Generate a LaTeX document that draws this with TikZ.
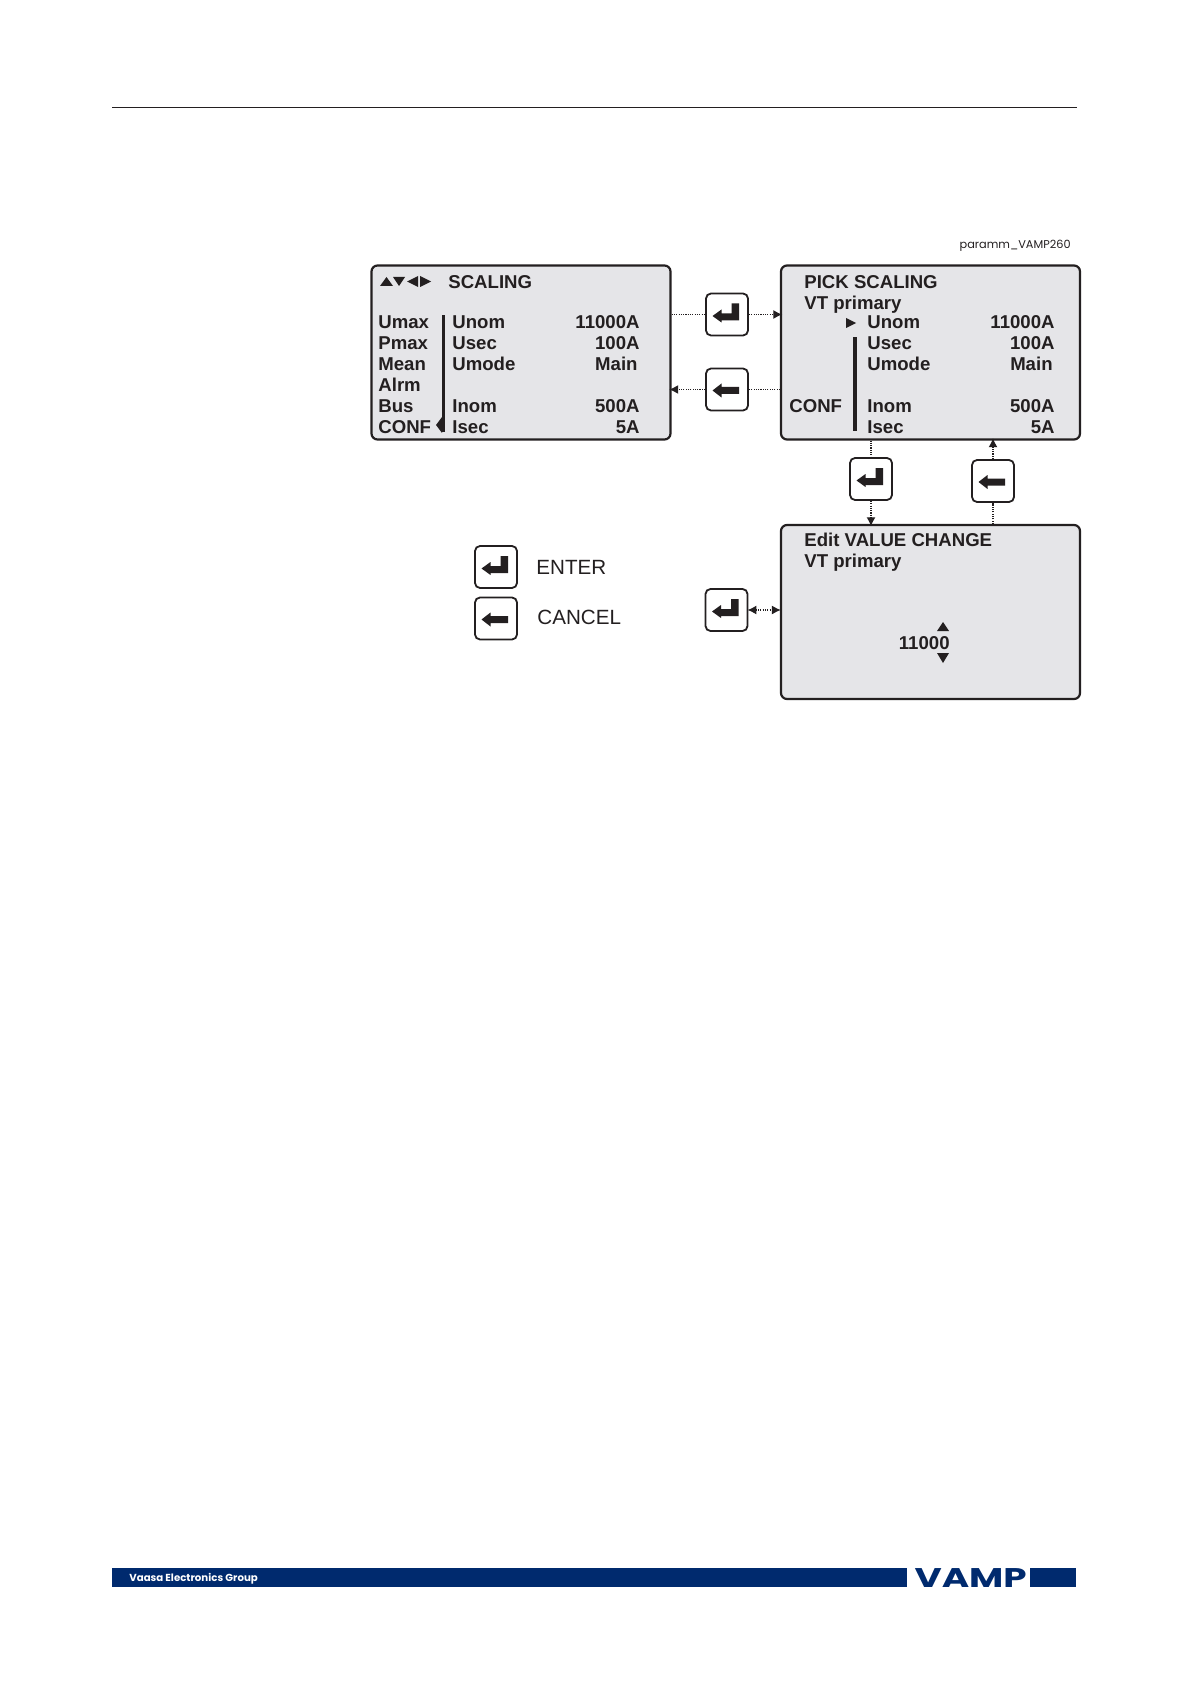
\documentclass[tikz,border=0pt]{standalone}
\usepackage{fontspec}
\setmainfont{Liberation Sans}
\newfontfamily\gothicfont{Poppins}
\usepackage{tikz}
\usetikzlibrary{arrows.meta,calc}

\definecolor{panelgray}{HTML}{E5E5E8}
\definecolor{inkblack}{HTML}{231F20}
\definecolor{vampblue}{HTML}{002A6E}

\tikzset{
  panel/.style={draw=inkblack, fill=panelgray, line width=1.1pt, rounded corners=3pt,
    minimum width=149.5pt, minimum height=87pt, inner sep=0pt},
  keybox/.style={draw=inkblack, fill=white, line width=0.9pt, rounded corners=2.5pt,
    minimum width=21pt, minimum height=21pt, inner sep=0pt},
  lcd/.style={anchor=base west, inner sep=0pt, text=inkblack,
    font=\fontsize{9.3}{11}\selectfont\bfseries},
  lcdright/.style={lcd, anchor=base east},
  legend/.style={anchor=base west, inner sep=0pt, text=inkblack,
    font=\fontsize{10.3}{12}\selectfont},
  dotlink/.style={draw=inkblack, line width=0.65pt, dash pattern=on 0.55pt off 0.6pt},
  dotarrow/.style={dotlink, shorten >=-1.2pt, -{Latex[length=4.5pt,width=4.5pt]}},
  dotboth/.style={dotlink, shorten >=-0.5pt, shorten <=-0.5pt,
    {Latex[length=4.5pt,width=4.5pt]}-{Latex[length=4.5pt,width=4.5pt]}}
}

\begin{document}
\begin{tikzpicture}[x=0.5pt, y=-0.5pt]
  \useasboundingbox (0,0) rectangle (1190,1684);
  % page rule
  \draw[inkblack, line width=0.5pt] (112,107.5) -- (1077,107.5);
  \node[anchor=base east, inner sep=0pt, text=inkblack, font=\fontsize{5.65}{7}\selectfont\gothicfont]
    (figname) at (1071,248.5) {paramm\_VAMP260};
  % panels
  \node[panel] (scalingbox) at (521,352.5) {};
  \node[panel] (pickbox) at (930.5,352.5) {};
  \node[panel] (editbox) at (930.5,612) {};
  % keys
  \foreach \name/\x/\y in {enterone/727/314.5, entertwo/871/479, enterthree/726.5/610, enterlegend/496/567} {
    \node[keybox] (\name) at (\x,\y) {};
    \fill[inkblack, shift={(\name.center)}] (-14.5,1.5) -- (-5.5,-5) -- (-5.5,-1) -- (4.5,-1)
      -- (4.5,-11) -- (12,-11) -- (12,6) -- (-5.5,6) -- (-5.5,8) -- cycle;
  }
  \foreach \name/\x/\y in {cancelone/727/389.5, canceltwo/993/481, cancellegend/496/618.5} {
    \node[keybox] (\name) at (\x,\y) {};
    \fill[inkblack, shift={(\name.center)}] (-14.5,1) -- (-5.5,-6) -- (-5.5,-2.5) -- (12,-2.5)
      -- (12,4.5) -- (-5.5,4.5) -- (-5.5,8) -- cycle;
  }
  % links
  \draw[dotlink] (scalingbox.east |- enterone.west) -- (enterone.west);
  \draw[dotarrow] (enterone.east) -- (pickbox.west |- enterone.east);
  \draw[dotlink] (pickbox.west |- cancelone.east) -- (cancelone.east);
  \draw[dotarrow] (cancelone.west) -- (scalingbox.east |- cancelone.west);
  \draw[dotlink] (pickbox.south -| entertwo.north) -- (entertwo.north);
  \draw[dotarrow] (entertwo.south) -- (editbox.north -| entertwo.south);
  \draw[dotlink] (editbox.north -| canceltwo.south) -- (canceltwo.south);
  \draw[dotarrow] (canceltwo.north) -- (pickbox.south -| canceltwo.north);
  \draw[dotboth] (enterthree.east) -- (editbox.west |- enterthree.east);
  % scaling panel
  \fill[inkblack] (380,286) -- (386.5,277) -- (393,286) -- cycle;
  \fill[inkblack] (393,277) -- (405,277) -- (399,286) -- cycle;
  \fill[inkblack] (407,281.5) -- (418,276) -- (418,287) -- cycle;
  \fill[inkblack] (420,276) -- (431,281.5) -- (420,287) -- cycle;
  \node[lcd] (scalingtitle) at (448,289) {SCALING};
  \foreach \i/\txt/\y in {1/Umax/329, 2/Pmax/350, 3/Mean/371, 4/Alrm/392, 5/Bus/413, 6/CONF/434}
    \node[lcd] (scalingmenu\i) at (378,\y) {\txt};
  \fill[inkblack] (441.5,315) rectangle (444.5,432);
  \fill[inkblack] (436,425) -- (442,417) -- (442,433) -- cycle;
  \foreach \i/\txt/\val/\r/\y in {1/Unom/11000A/640/329, 2/Usec/100A/640/350, 3/Umode/Main/638/371, 4/Inom/500A/640/413, 5/Isec/5A/640/434} {
    \node[lcd] (scalingname\i) at (452,\y) {\txt};
    \node[lcdright] (scalingval\i) at (\r,\y) {\val};
  }
  % pick panel
  \node[lcd] (picktitle) at (804,289) {PICK SCALING};
  \node[lcd] (pickvt) at (804,310) {VT primary};
  \node[lcd] (pickconf) at (789,413) {CONF};
  \fill[inkblack] (846,318) -- (856,323) -- (846,328) -- cycle;
  \fill[inkblack] (853,337) rectangle (857,431);
  \foreach \i/\txt/\val/\r/\y in {1/Unom/11000A/1055/329, 2/Usec/100A/1055/350, 3/Umode/Main/1053/371, 4/Inom/500A/1055/413, 5/Isec/5A/1055/434} {
    \node[lcd] (pickname\i) at (867,\y) {\txt};
    \node[lcdright] (pickval\i) at (\r,\y) {\val};
  }
  % edit panel
  \node[lcd] (edittitle) at (804,546.5) {Edit VALUE CHANGE};
  \node[lcd] (editvt) at (804,567.5) {VT primary};
  \node[lcdright] (editval) at (950,649.5) {11000};
  \fill[inkblack] (937,631) -- (943,622) -- (949,631) -- cycle;
  \fill[inkblack] (937,653) -- (949,653) -- (943,663) -- cycle;
  % legend
  \node[legend] (enterlabel) at (536,574) {ENTER};
  \node[legend] (cancellabel) at (537,624) {CANCEL};
  % footer
  \fill[vampblue] (112,1568) rectangle (907,1587);
  \fill[vampblue] (1030,1568) rectangle (1076,1587);
  \node[anchor=base west, inner sep=0pt, text=white, font=\fontsize{5.1}{6}\selectfont\gothicfont\bfseries]
    (footertext) at (129,1581) {Vaasa Electronics Group};
  \node[anchor=base west, inner sep=0pt, text=vampblue, xscale=1.38, font=\fontsize{13.5}{14}\selectfont\gothicfont\bfseries]
    (vamplogo) at (914,1587) {VAMP};
\end{tikzpicture}
\end{document}
